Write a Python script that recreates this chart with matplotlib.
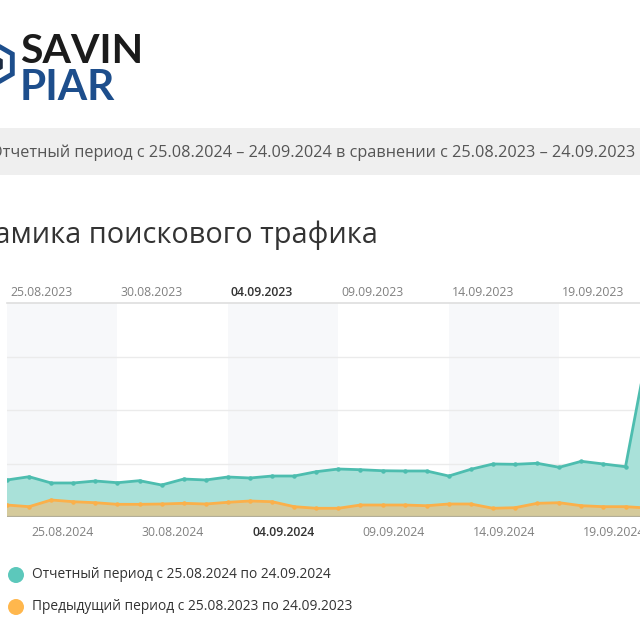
import matplotlib
matplotlib.use("Agg")
import matplotlib.pyplot as plt
from matplotlib.patches import Rectangle, Circle, RegularPolygon
from matplotlib.transforms import blended_transform_factory

# ---- data (gridline step = 100) ----
days = list(range(31))  # 25.08 .. 24.09
current = [69.2, 75.3, 63.6, 63.6, 67.3, 64.1, 67.9, 59.8, 71.0, 69.2,
           74.8, 72.9, 76.6, 76.6, 84.7, 89.7, 88.4, 86.5, 86.0, 86.0,
           76.6, 89.2, 99.1, 98.5, 100.4, 92.9, 104.1, 99.1, 94.0, 312.0,
           330.0]
previous = [22.4, 19.3, 31.8, 28.6, 26.7, 23.7, 23.7, 24.3, 25.6, 24.3,
            27.5, 29.9, 28.6, 19.3, 16.3, 16.3, 22.4, 22.4, 22.4, 21.1,
            24.3, 24.3, 16.3, 17.4, 25.6, 26.7, 21.1, 19.3, 19.3, 16.8,
            18.0]
top_labels = ["25.08.2023", "30.08.2023", "04.09.2023", "09.09.2023",
              "14.09.2023", "19.09.2023"]
bottom_labels = ["25.08.2024", "30.08.2024", "04.09.2024", "09.09.2024",
                 "14.09.2024", "19.09.2024"]
highlight = 2
legend_labels = ["Отчетный период с 25.08.2024 по 24.09.2024",
                 "Предыдущий период с 25.08.2023 по 24.09.2023"]
title = "Динамика поискового трафика"
banner = "Отчетный период с 25.08.2024 – 24.09.2024 в сравнении с 25.08.2023 – 24.09.2023"

FONT = "Open Sans"
TEAL = "#4dbdaf"
TEAL_FILL = "#a9e1d9"
ORANGE = "#fbb04a"
KHAKI = "#d5ca9b"

fig = plt.figure(figsize=(6.4, 6.4), dpi=100)
fig.patch.set_facecolor("white")

# ---- logo ----
fig.text(20/640, 1-63/640, "SAVIN", family="Lato", weight="bold",
         fontsize=29.5, color="#1b1b1b", va="baseline", ha="left")
fig.text(20/640, 1-100/640, "PIAR", family="Lato", weight="bold",
         fontsize=30.5, color="#1d4e8c", va="baseline", ha="left")
hexo = RegularPolygon((-5/640, 1-64/640), numVertices=6, radius=20/640,
                      orientation=0, transform=fig.transFigure,
                      facecolor="none", edgecolor="#1d4e8c", lw=3.5)
fig.patches.append(hexo)
hexi = RegularPolygon((-5/640, 1-64/640), numVertices=6, radius=9/640,
                      orientation=0, transform=fig.transFigure,
                      facecolor="#1b2a40", edgecolor="none")
fig.patches.append(hexi)

# ---- banner ----
fig.patches.append(Rectangle((0, 1-175/640), 1, 47/640, transform=fig.transFigure,
                             facecolor="#efefef", edgecolor="none", zorder=0))
fig.text(-10.5/640, 1-153/640, banner, family=FONT, fontsize=11.7,
         color="#555555", va="center", ha="left")

# ---- title ----
fig.text(378/640, 1-243/640, title, family=FONT, fontsize=20.8,
         color="#333333", va="baseline", ha="right")

# ---- chart ----
ax = fig.add_axes([7/640, 123/640, 662.7/640, 214/640])
ax.set_xlim(0, 30)
ax.set_ylim(0, 400)
for s in ax.spines.values():
    s.set_visible(False)
ax.set_xticks([])
ax.set_yticks([])

n = len(top_labels)
for k in range(0, 6, 2):
    ax.axvspan(5*k, 5*k+5, color="#f7f8fa", zorder=0, lw=0)
for g in (100, 200, 300):
    ax.axhline(g, color="#ebebeb", lw=1, zorder=1)
ax.axhline(400, color="#dedede", lw=1.2, zorder=1, clip_on=False)

ax.fill_between(days, current, 0, color=TEAL_FILL, lw=0, zorder=2)
ax.fill_between(days, previous, 0, color=KHAKI, lw=0, zorder=3)
ax.plot(days, previous, color=ORANGE, lw=2, marker="o", ms=2.2, zorder=4)
ax.plot(days, current, color=TEAL, lw=2, marker="o", ms=2.2, zorder=5)
ax.axhline(0, color="#b3ae98", lw=1.6, zorder=6)

tr = blended_transform_factory(ax.transData, ax.transAxes)
for k in range(n):
    hl = (k == highlight)
    ax.text(5*k + 0.14, 1 + 11/214, top_labels[k], transform=tr,
            family=FONT, fontsize=8.8, ha="left", va="center",
            color="#333333" if hl else "#808080",
            weight="semibold" if hl else "normal", clip_on=False)
    ax.text(5*k + 2.5, -16/214, bottom_labels[k], transform=tr,
            family=FONT, fontsize=8.8, ha="center", va="center",
            color="#333333" if hl else "#808080",
            weight="semibold" if hl else "normal", clip_on=False)

# ---- legend ----
for i, (lab, col) in enumerate(zip(legend_labels, ["#5cc8bb", "#ffb74d"])):
    yc = 1 - (575 + 32*i)/640
    fig.patches.append(Circle((16/640, yc), 8/640, transform=fig.transFigure,
                              facecolor=col, edgecolor="none"))
    fig.text(32/640, yc, lab, family=FONT, fontsize=9.9, color="#333333",
             va="center", ha="left")

fig.savefig("out.png", dpi=100)
